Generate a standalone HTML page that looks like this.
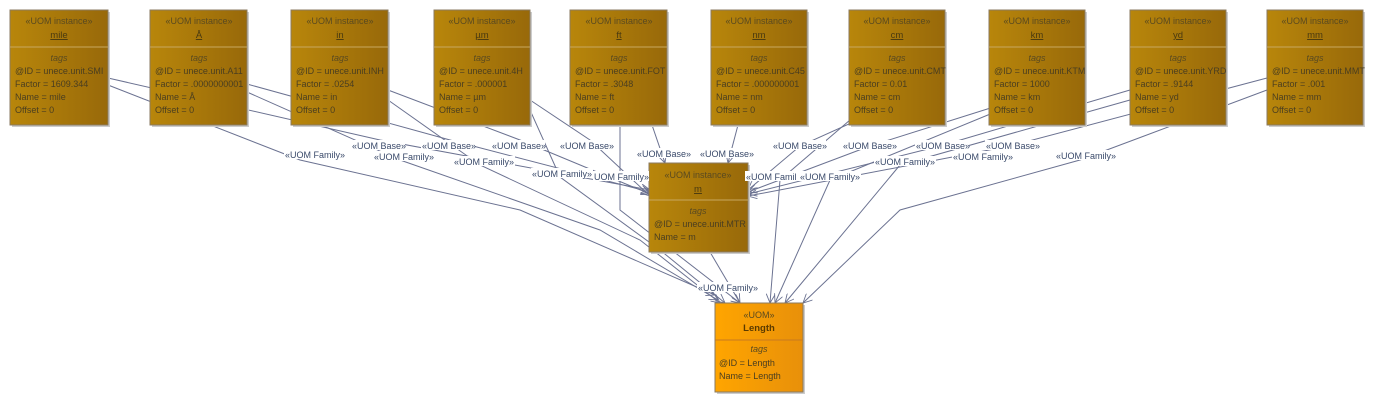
<!DOCTYPE html>
<html><head><meta charset="utf-8"><style>
body{margin:0;background:#fff;width:1382px;height:403px;overflow:hidden}
svg{display:block;font-family:"Liberation Sans",sans-serif}
.st{font-size:9px;fill:#5a4a20;text-anchor:middle}
.nm{font-size:9.5px;fill:#4a3a10;text-anchor:middle;text-decoration:underline}
.tg{font-size:9px;fill:#5a4a20;text-anchor:middle;font-style:italic}
.at{font-size:9px;fill:#4a3e20}
.lb{font-size:9px;fill:#3a4a6a}
.ln{stroke:#6b7291;stroke-width:1;fill:none}
</style></head><body>
<svg width="1382" height="403" viewBox="0 0 1382 403">
<defs>
<linearGradient id="g" x1="0" x2="1"><stop offset="0" stop-color="#b8860b"/><stop offset="1" stop-color="#98690a"/></linearGradient>
<linearGradient id="o" x1="0" x2="1"><stop offset="0" stop-color="#ffa500"/><stop offset="1" stop-color="#e8900a"/></linearGradient>
<marker id="a" viewBox="0 0 10 10" refX="10" refY="5" markerWidth="9" markerHeight="9" orient="auto" markerUnits="userSpaceOnUse"><path d="M0,0 L10,5 L0,10" fill="none" stroke="#6b7291"/></marker>
</defs>
<g class="ln" marker-end="url(#a)">
<polyline points="108,78 380,140 650,190"/>
<polyline points="247,84 450,140 650,192"/>
<polyline points="388,90 520,140 650,194"/>
<polyline points="530,100 590,140 650,196"/>
<polyline points="652,125 665,163"/>
<polyline points="738,125 728,163"/>
<polyline points="880,110 800,146 748,190"/>
<polyline points="1000,105 870,146 748,192"/>
<polyline points="1130,90 940,146 748,194"/>
<polyline points="1267,78 1010,146 748,196"/>
<polyline points="108,85 300,160 520,210 715,295"/>
<polyline points="247,92 400,160 600,230 718,300"/>
<polyline points="388,100 480,165 640,240 720,303"/>
<polyline points="530,110 560,177 660,250 725,303"/>
<polyline points="620,125 620,210 740,303"/>
<polyline points="710,252 740,303"/>
<polyline points="850,120 780,180 770,303"/>
<polyline points="1000,110 830,180 775,303"/>
<polyline points="1130,100 900,165 785,303"/>
<polyline points="1267,90 1080,160 900,210 803,303"/>
</g>
<g>
<rect x="12" y="12" width="98" height="115" fill="#ccc"/><rect x="10" y="10" width="98" height="115" fill="url(#g)" stroke="#8a7a60"/><line x1="10" y1="47" x2="108" y2="47" stroke="#c8a860"/><text x="59" y="24" class="st">«UOM instance»</text><text x="59" y="38" class="nm">mile</text><text x="59" y="61" class="tg">tags</text><text x="15" y="74" class="at">@ID = unece.unit.SMI</text><text x="15" y="87" class="at">Factor = 1609.344</text><text x="15" y="100" class="at">Name = mile</text><text x="15" y="113" class="at">Offset = 0</text>
<rect x="152" y="12" width="97" height="115" fill="#ccc"/><rect x="150" y="10" width="97" height="115" fill="url(#g)" stroke="#8a7a60"/><line x1="150" y1="47" x2="247" y2="47" stroke="#c8a860"/><text x="199" y="24" class="st">«UOM instance»</text><text x="199" y="38" class="nm">Å</text><text x="199" y="61" class="tg">tags</text><text x="155" y="74" class="at">@ID = unece.unit.A11</text><text x="155" y="87" class="at">Factor = .0000000001</text><text x="155" y="100" class="at">Name = Å</text><text x="155" y="113" class="at">Offset = 0</text>
<rect x="293" y="12" width="97" height="115" fill="#ccc"/><rect x="291" y="10" width="97" height="115" fill="url(#g)" stroke="#8a7a60"/><line x1="291" y1="47" x2="388" y2="47" stroke="#c8a860"/><text x="340" y="24" class="st">«UOM instance»</text><text x="340" y="38" class="nm">in</text><text x="340" y="61" class="tg">tags</text><text x="296" y="74" class="at">@ID = unece.unit.INH</text><text x="296" y="87" class="at">Factor = .0254</text><text x="296" y="100" class="at">Name = in</text><text x="296" y="113" class="at">Offset = 0</text>
<rect x="436" y="12" width="96" height="115" fill="#ccc"/><rect x="434" y="10" width="96" height="115" fill="url(#g)" stroke="#8a7a60"/><line x1="434" y1="47" x2="530" y2="47" stroke="#c8a860"/><text x="482" y="24" class="st">«UOM instance»</text><text x="482" y="38" class="nm">µm</text><text x="482" y="61" class="tg">tags</text><text x="439" y="74" class="at">@ID = unece.unit.4H</text><text x="439" y="87" class="at">Factor = .000001</text><text x="439" y="100" class="at">Name = µm</text><text x="439" y="113" class="at">Offset = 0</text>
<rect x="572" y="12" width="97" height="115" fill="#ccc"/><rect x="570" y="10" width="97" height="115" fill="url(#g)" stroke="#8a7a60"/><line x1="570" y1="47" x2="667" y2="47" stroke="#c8a860"/><text x="619" y="24" class="st">«UOM instance»</text><text x="619" y="38" class="nm">ft</text><text x="619" y="61" class="tg">tags</text><text x="575" y="74" class="at">@ID = unece.unit.FOT</text><text x="575" y="87" class="at">Factor = .3048</text><text x="575" y="100" class="at">Name = ft</text><text x="575" y="113" class="at">Offset = 0</text>
<rect x="713" y="12" width="96" height="115" fill="#ccc"/><rect x="711" y="10" width="96" height="115" fill="url(#g)" stroke="#8a7a60"/><line x1="711" y1="47" x2="807" y2="47" stroke="#c8a860"/><text x="759" y="24" class="st">«UOM instance»</text><text x="759" y="38" class="nm">nm</text><text x="759" y="61" class="tg">tags</text><text x="716" y="74" class="at">@ID = unece.unit.C45</text><text x="716" y="87" class="at">Factor = .000000001</text><text x="716" y="100" class="at">Name = nm</text><text x="716" y="113" class="at">Offset = 0</text>
<rect x="851" y="12" width="96" height="115" fill="#ccc"/><rect x="849" y="10" width="96" height="115" fill="url(#g)" stroke="#8a7a60"/><line x1="849" y1="47" x2="945" y2="47" stroke="#c8a860"/><text x="897" y="24" class="st">«UOM instance»</text><text x="897" y="38" class="nm">cm</text><text x="897" y="61" class="tg">tags</text><text x="854" y="74" class="at">@ID = unece.unit.CMT</text><text x="854" y="87" class="at">Factor = 0.01</text><text x="854" y="100" class="at">Name = cm</text><text x="854" y="113" class="at">Offset = 0</text>
<rect x="991" y="12" width="96" height="115" fill="#ccc"/><rect x="989" y="10" width="96" height="115" fill="url(#g)" stroke="#8a7a60"/><line x1="989" y1="47" x2="1085" y2="47" stroke="#c8a860"/><text x="1037" y="24" class="st">«UOM instance»</text><text x="1037" y="38" class="nm">km</text><text x="1037" y="61" class="tg">tags</text><text x="994" y="74" class="at">@ID = unece.unit.KTM</text><text x="994" y="87" class="at">Factor = 1000</text><text x="994" y="100" class="at">Name = km</text><text x="994" y="113" class="at">Offset = 0</text>
<rect x="1132" y="12" width="96" height="115" fill="#ccc"/><rect x="1130" y="10" width="96" height="115" fill="url(#g)" stroke="#8a7a60"/><line x1="1130" y1="47" x2="1226" y2="47" stroke="#c8a860"/><text x="1178" y="24" class="st">«UOM instance»</text><text x="1178" y="38" class="nm">yd</text><text x="1178" y="61" class="tg">tags</text><text x="1135" y="74" class="at">@ID = unece.unit.YRD</text><text x="1135" y="87" class="at">Factor = .9144</text><text x="1135" y="100" class="at">Name = yd</text><text x="1135" y="113" class="at">Offset = 0</text>
<rect x="1269" y="12" width="96" height="115" fill="#ccc"/><rect x="1267" y="10" width="96" height="115" fill="url(#g)" stroke="#8a7a60"/><line x1="1267" y1="47" x2="1363" y2="47" stroke="#c8a860"/><text x="1315" y="24" class="st">«UOM instance»</text><text x="1315" y="38" class="nm">mm</text><text x="1315" y="61" class="tg">tags</text><text x="1272" y="74" class="at">@ID = unece.unit.MMT</text><text x="1272" y="87" class="at">Factor = .001</text><text x="1272" y="100" class="at">Name = mm</text><text x="1272" y="113" class="at">Offset = 0</text>
<rect x="651" y="165" width="99" height="89" fill="#ccc"/><rect x="649" y="163" width="99" height="89" fill="url(#g)" stroke="#8a7a60"/><line x1="649" y1="200" x2="748" y2="200" stroke="#c8a860"/><text x="698" y="178" class="st">«UOM instance»</text><text x="698" y="192" class="nm">m</text><text x="698" y="214" class="tg">tags</text><text x="654" y="227" class="at">@ID = unece.unit.MTR</text><text x="654" y="240" class="at">Name = m</text>
<rect x="717" y="305" width="88" height="89" fill="#ccc"/><rect x="715" y="303" width="88" height="89" fill="url(#o)" stroke="#8a7a60"/><line x1="715" y1="340" x2="803" y2="340" stroke="#c87a20"/><text x="759" y="318" class="st" fill="#5a3a00">«UOM»</text><text x="759" y="331" style="font-size:9.5px;font-weight:bold;text-anchor:middle;fill:#5a3a00">Length</text><text x="759" y="352" class="tg">tags</text><text x="719" y="366" class="at">@ID = Length</text><text x="719" y="379" class="at">Name = Length</text>
</g>
<g class="lb">
<g fill="#fff"><rect x="351" y="140" width="54" height="10"/><rect x="421" y="140" width="54" height="10"/><rect x="491" y="140" width="54" height="10"/><rect x="559" y="140" width="54" height="10"/><rect x="636" y="148" width="54" height="10"/><rect x="699" y="148" width="54" height="10"/><rect x="772" y="140" width="54" height="10"/><rect x="842" y="140" width="54" height="10"/><rect x="915" y="140" width="54" height="10"/><rect x="985" y="140" width="54" height="10"/>
<rect x="284" y="149" width="62" height="10"/><rect x="373" y="151" width="62" height="10"/><rect x="453" y="156" width="62" height="10"/><rect x="531" y="168" width="62" height="10"/><rect x="593" y="171" width="56" height="10"/><rect x="745" y="171" width="54" height="10"/><rect x="799" y="171" width="62" height="10"/><rect x="874" y="156" width="62" height="10"/><rect x="952" y="151" width="62" height="10"/><rect x="1055" y="150" width="62" height="10"/><rect x="697" y="282" width="62" height="10"/></g>
<text x="352" y="149">«UOM Base»</text><text x="422" y="149">«UOM Base»</text><text x="492" y="149">«UOM Base»</text><text x="560" y="149">«UOM Base»</text><text x="637" y="157">«UOM Base»</text><text x="700" y="157">«UOM Base»</text><text x="773" y="149">«UOM Base»</text><text x="843" y="149">«UOM Base»</text><text x="916" y="149">«UOM Base»</text><text x="986" y="149">«UOM Base»</text>
<text x="285" y="158">«UOM Family»</text><text x="374" y="160">«UOM Family»</text><text x="454" y="165">«UOM Family»</text><text x="532" y="177">«UOM Family»</text><text x="594" y="180">UOM Family»</text><text x="746" y="180">«UOM Famil</text><text x="800" y="180">«UOM Family»</text><text x="875" y="165">«UOM Family»</text><text x="953" y="160">«UOM Family»</text><text x="1056" y="159">«UOM Family»</text><text x="698" y="291">«UOM Family»</text>
</g>
</svg>
</body></html>
